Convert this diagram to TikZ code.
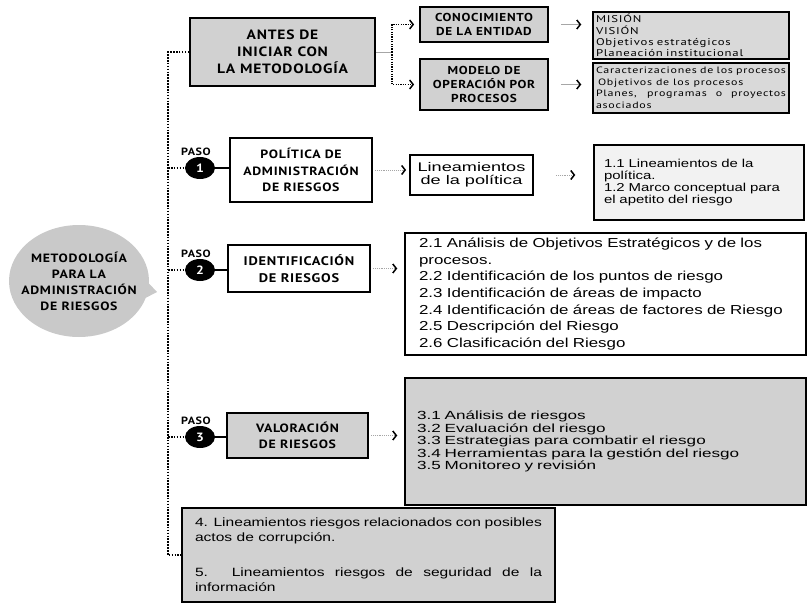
\documentclass[tikz,border=0pt]{standalone}
\usepackage{fontspec}
\setmainfont{Liberation Sans}
\newfontfamily\headfont[LetterSpace=6,FakeStretch=1.15]{PT Sans}
\newfontfamily\listfont[LetterSpace=8,FakeStretch=1.3]{PT Sans}
\newfontfamily\bodyfont[FakeStretch=1.3]{Liberation Sans}
\newfontfamily\bodywide[FakeStretch=1.45]{Liberation Sans}
\usetikzlibrary{arrows.meta,shapes.geometric,shapes.callouts}

\definecolor{boxgray}{gray}{0.82}
\definecolor{listgray}{gray}{0.85}
\definecolor{bubblegray}{gray}{0.79}
\definecolor{palegray}{gray}{0.95}

\tikzset{
   hbox/.style={draw, line width=1.8pt, align=center, inner sep=2pt,
      font=\headfont\bfseries\fontsize{12}{16.5}\selectfont},
   smallhbox/.style={hbox, font=\headfont\bfseries\fontsize{11.5}{14}\selectfont},
   listbox/.style={draw, line width=1.5pt, fill=listgray, inner xsep=3pt, inner ysep=0.5pt,
      text width=190pt, align=left, font=\listfont\fontsize{9.8}{11.3}\selectfont},
   txtbox/.style={draw, line width=1.5pt, align=left},
   pasonum/.style={ellipse, fill=black, text=white, minimum width=30, minimum height=22,
      inner sep=0pt, font=\headfont\bfseries\fontsize{12}{12}\selectfont},
   pasolbl/.style={inner sep=1pt, xshift=-4pt, font=\headfont\bfseries\fontsize{10.5}{10.5}\selectfont},
   trunk/.style={line width=1.6pt, dash pattern=on 1.6pt off 1.3pt},
   branch/.style={line width=1.2pt, dash pattern=on 1.2pt off 1.2pt},
   thinln/.style={draw=gray!70, line width=0.9pt},
   tip/.style={-{Straight Barb[length=3.5pt,width=9pt,line width=1.5pt,color=black]}}
}

\begin{document}
\begin{tikzpicture}[x=1pt, y=-1pt]
   \useasboundingbox (0,0) rectangle (807,605);

   \node[ellipse callout, fill=bubblegray, minimum width=140, minimum height=112, inner sep=0pt,
      callout absolute pointer={(157,292)}] (meta) at (79,281) {};
   \node[align=center, font=\headfont\bfseries\fontsize{12}{16}\selectfont] (metatxt) at (meta.center)
      {METODOLOGÍA\\PARA LA\\ADMINISTRACIÓN\\DE RIESGOS};

   \node[hbox, fill=boxgray, minimum width=185, minimum height=68,
      font=\headfont\bfseries\fontsize{13.5}{17}\selectfont] (antes) at (282.5,52)
      {ANTES DE\\INICIAR CON\\LA METODOLOGÍA};
   \node[smallhbox, fill=boxgray, minimum width=128, minimum height=35] (conoc) at (484,24.5)
      {CONOCIMIENTO\\DE LA ENTIDAD};
   \node[smallhbox, fill=boxgray, minimum width=128, minimum height=51] (modelo) at (484,84.5)
      {MODELO DE\\OPERACIÓN POR\\PROCESOS};
   \node[listbox, minimum height=47] (mision) at (691,35.5)
      {MISIÓN\\VISIÓN\\Objetivos estratégicos\\Planeación institucional};
   \node[listbox, minimum height=50, align=justify, font=\listfont\fontsize{9.2}{11.5}\selectfont] (caract) at (691,88)
      {\hyphenpenalty=10000 Caracterizaciones de los procesos\\\hspace*{2pt}Objetivos de los procesos\\Planes, programas o proyectos\linebreak asociados};

   \node[hbox, fill=white, minimum width=142, minimum height=64] (pol) at (301,170)
      {POLÍTICA DE\\ADMINISTRACIÓN\\DE RIESGOS};
   \node[draw, line width=1.8pt, minimum width=123, minimum height=40, align=center,
      font=\bodywide\fontsize{12.5}{13.5}\selectfont] (linea) at (471.5,175)
      {Lineamientos\\de la política};
   \node[txtbox, fill=palegray, minimum width=210, minimum height=75, inner xsep=10pt,
      text width=190pt, font=\bodyfont\fontsize{11.5}{12.2}\selectfont] (b11) at (699,182.5)
      {1.1 Lineamientos de la\\política.\\1.2 Marco conceptual para\\el apetito del riesgo};

   \node[hbox, fill=white, minimum width=142, minimum height=47,
      font=\headfont\bfseries\fontsize{12.5}{16.5}\selectfont] (ident) at (299,268.5)
      {IDENTIFICACIÓN\\DE RIESGOS};
   \node[txtbox, fill=white, minimum width=401, minimum height=122, inner xsep=14pt,
      text width=373pt, font=\bodyfont\fontsize{13}{16.7}\selectfont] (b2) at (605.5,294)
      {2.1 Análisis de Objetivos Estratégicos y de los\\procesos.\\2.2 Identificación de los puntos de riesgo\\2.3 Identificación de áreas de impacto\\2.4 Identificación de áreas de factores de Riesgo\\2.5 Descripción del Riesgo\\2.6 Clasificación del Riesgo};

   \node[hbox, fill=boxgray, minimum width=141, minimum height=45] (valor) at (297.5,435.5)
      {VALORACIÓN\\DE RIESGOS};
   \node[txtbox, fill=boxgray, minimum width=401, minimum height=127, inner xsep=12pt,
      text width=377pt, font=\bodywide\fontsize{11.8}{12.5}\selectfont] (b3) at (605.5,441.5)
      {3.1 Análisis de riesgos\\3.2 Evaluación del riesgo\\3.3 Estrategias para combatir el riesgo\\3.4 Herramientas para la gestión del riesgo\\3.5 Monitoreo y revisión};

   \node[txtbox, fill=boxgray, minimum width=373, minimum height=94, inner xsep=13pt,
      text width=347pt, align=justify, font=\bodyfont\fontsize{12}{15}\selectfont] (todo) at (368.5,555)
      {4. Lineamientos riesgos relacionados con posibles\\actos de corrupción.\par\vspace{20pt}5. Lineamientos riesgos de seguridad de la\linebreak información};

   \node[pasonum, label={[pasolbl]above:PASO}] (p1) at (200,168) {1};
   \node[pasonum, label={[pasolbl]above:PASO}] (p2) at (200,270) {2};
   \node[pasonum, label={[pasolbl]above:PASO}] (p3) at (200,437) {3};

   \coordinate (tr) at (168,0);
   \coordinate (sp) at (392,52);

   \draw[trunk] (antes.west) -- (antes.west -| tr) -- (todo.west -| tr) -- (todo.west);
   \foreach \p/\b in {p1/pol, p2/ident, p3/valor} {
      \draw[trunk] (\p.west -| tr) -- (\p.west);
      \draw[line width=1.8pt] (\p.east) -- (\p.east -| \b.west);
   }

   \draw[thinln] (antes.east) -- (sp);
   \draw[branch, tip, shorten >=5pt] (sp) |- (conoc.west);
   \draw[branch, tip, shorten >=5pt] (sp) |- (modelo.west);
   \draw[thinln, tip, shorten <=12pt, shorten >=11pt] (conoc.east) -- (conoc.east -| mision.west);
   \draw[thinln, tip, shorten <=12pt, shorten >=11pt] (modelo.east) -- (modelo.east -| caract.west);
   \draw[thinln, densely dotted, tip, shorten <=2pt, shorten >=3pt] (pol.east) -- (pol.east -| linea.west);
   \draw[thinln, densely dotted, tip, shorten <=22pt, shorten >=18pt] (linea.east) -- (linea.east -| b11.west);
   \draw[thinln, densely dotted, tip, shorten <=2pt, shorten >=7pt] (ident.east) -- (ident.east -| b2.west);
   \draw[thinln, densely dotted, tip, shorten <=2pt, shorten >=7pt] (valor.east) -- (valor.east -| b3.west);
\end{tikzpicture}
\end{document}
